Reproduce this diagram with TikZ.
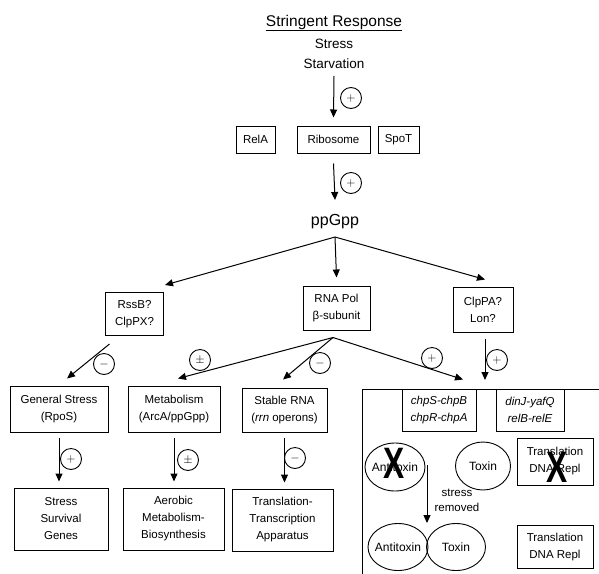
\documentclass[tikz,border=0pt]{standalone}
\usepackage{fontspec}
\setmainfont{Liberation Sans}
\usetikzlibrary{arrows.meta,positioning,shapes.geometric}
\tikzset{
  boxtxt/.style={font=\fontsize{11.5}{17}\selectfont},
  pathbox/.style={draw,line width=1pt,boxtxt,align=center,inner sep=2pt,
                  minimum height=27pt},
  oval/.style={ellipse,draw,line width=.9pt,font=\fontsize{12}{12}\selectfont,
               inner sep=0pt,minimum width=60pt,minimum height=47pt},
  signc/.style={circle,draw,line width=.9pt,minimum size=21pt,inner sep=0pt,
                font=\fontsize{12}{12}\selectfont},
  act/.style={-{Triangle[length=8pt,width=7pt]},line width=1pt},
  knock/.style={font=\fontsize{44}{44}\selectfont\bfseries,inner sep=0pt},
}

\begin{document}
\begin{tikzpicture}[x=1pt,y=-1pt]
  \clip (0,0) rectangle (599,573);
  % header and the ppGpp synthesis
  \node[font=\fontsize{15.5}{15.5}\selectfont] (title) at (334,23) {\underline{Stringent Response}};
  \node[align=center,font=\fontsize{13.5}{20}\selectfont] (stress) at (334,54) {Stress\\Starvation};
  \node[pathbox,minimum width=39pt] (rela) at (255.5,139.5) {RelA};
  \node[pathbox,minimum width=73pt] (ribo) at (333.5,139.5) {Ribosome};
  \node[pathbox,minimum width=41pt] (spot) at (398.5,139.5) {SpoT};
  \node[font=\fontsize{16}{16}\selectfont] (ppgpp) at (335,222) {ppGpp};
  % first targets
  \node[pathbox,minimum width=58pt,minimum height=43pt] (rssb) at (134.5,314) {RssB?\\ClpPX?};
  \node[pathbox,minimum width=67pt,minimum height=44pt] (rnapol) at (336.5,308) {RNA Pol\\β-subunit};
  \node[pathbox,minimum width=60pt,minimum height=45pt] (clppa) at (483,309.5) {ClpPA?\\Lon?};
  % second row
  \node[pathbox,minimum width=98pt,minimum height=46pt] (gs) at (59,409) {General Stress\\(RpoS)};
  \node[pathbox,minimum width=92pt,minimum height=46pt] (metab) at (174,409) {Metabolism\\(ArcA/ppGpp)};
  \node[pathbox,minimum width=85pt,minimum height=44pt] (srna) at (284.5,410) {Stable RNA\\(\textit{rrn} operons)};
  % toxin--antitoxin panel
  \node[draw,line width=1pt,anchor=north west,minimum width=300pt,minimum height=250pt] (tabox) at (362,389) {};
  \node[pathbox,minimum width=74pt,minimum height=42pt,font=\fontsize{11.5}{17}\selectfont\itshape] (chps) at (439,410) {chpS-chpB\\chpR-chpA};
  \node[pathbox,minimum width=68pt,minimum height=42pt,font=\fontsize{11.5}{17}\selectfont\itshape] (dinj) at (530,410) {dinJ-yafQ\\relB-relE};
  \node[oval,minimum height=48pt] (at1) at (395,467) {\makebox[0pt]{Antitoxin}};
  \node[oval,minimum width=55pt,minimum height=48pt] (tx1) at (483,466) {\makebox[0pt]{Toxin}};
  \node[pathbox,minimum width=76pt,minimum height=47pt] (tr1) at (555,461.5) {Translation\\DNA Repl};
  \node[knock] (x1) at (394,463) {\scalebox{.72}[1]{X}};
  \node[knock] (x2) at (557,467) {\scalebox{.72}[1]{X}};
  \coordinate (sr) at (427,465);
  \node[align=center,font=\fontsize{11.5}{15}\selectfont] (rem) at (457,500) {stress\\removed};
  \node[oval] (at2) at (398,547) {\makebox[0pt]{Antitoxin}};
  \node[oval,minimum width=59pt] (tx2) at (456,547) {\makebox[0pt]{Toxin}};
  \node[pathbox,minimum width=76pt,minimum height=43pt] (tr2) at (555,547) {Translation\\DNA Repl};
  % outputs
  \node[pathbox,minimum width=94pt,minimum height=62pt] (ssg) at (61,519) {Stress\\Survival\\Genes};
  \node[pathbox,minimum width=101pt,minimum height=62pt] (amb) at (173.5,519) {Aerobic\\Metabolism-\\Biosynthesis};
  \node[pathbox,minimum width=101pt,minimum height=62pt] (tta) at (282.5,520) {Translation-\\Transcription\\Apparatus};
  % arrows
  \draw[act] ([yshift=-22pt]stress.center) -- ([yshift=8pt]ribo.north);
  \draw[act] ([yshift=-10pt]ribo.south) -- ([yshift=22pt]ppgpp.center);
  \draw[act] ([yshift=-15pt]ppgpp.center) -- ([shift={(1pt,7pt)}]rssb.north east);
  \draw[act] ([yshift=-15pt]ppgpp.center) -- ([yshift=8pt]rnapol.north);
  \draw[act] ([yshift=-15pt]ppgpp.center) -- ([shift={(2pt,7pt)}]clppa.north);
  \draw[act] ([shift={(-25pt,-8pt)}]rssb.south) -- ([shift={(8pt,7pt)}]gs.north);
  \draw[act] ([shift={(-3.5pt,-7pt)}]rnapol.south) -- ([shift={(4pt,7pt)}]metab.north);
  \draw[act] ([shift={(-3.5pt,-7pt)}]rnapol.south) -- ([shift={(-1.5pt,8pt)}]srna.north);
  \draw[act] ([shift={(-3.5pt,-7pt)}]rnapol.south) -- ([shift={(24pt,9pt)}]chps.north);
  \draw[act] ([shift={(2pt,-6pt)}]clppa.south) -- ([shift={(2pt,9pt)}]clppa.south |- tabox.north);
  \foreach \a/\b in {gs/ssg,metab/amb,srna/tta}{
    \draw[act] ([yshift=-5pt]\a.south) -- ([yshift=6pt]\a.south |- \b.north);}
  \draw[act] (sr) -- (sr |- at2.north);
  % regulation signs
  \foreach \n/\x/\y/\s in {s1/351/98/+,s2/351/183/+,s3/104/364/-,s4/200/360/\pm,
      s5/320/363/-,s6/432/358/+,s7/497/360/+,s8/71/459/+,s9/188/460/\pm,s10/295/458/-}{
    \node[signc] (\n) at (\x,\y) {$\s$};}
\end{tikzpicture}
\end{document}
